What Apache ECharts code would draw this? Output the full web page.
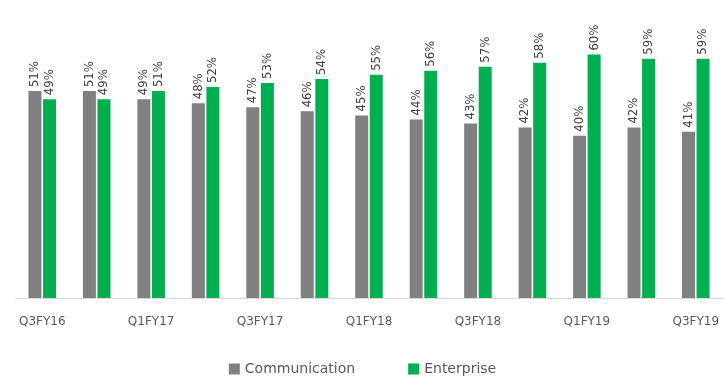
<!DOCTYPE html>
<html><head><meta charset="utf-8">
<script src="https://cdn.jsdelivr.net/npm/echarts@6/dist/echarts.min.js"></script>
<style>html,body{margin:0;padding:0;background:#fff}#c{width:725px;height:377px}</style>
</head><body><div id="c"></div>
<script>
const categories = ['Q3FY16','Q4FY16','Q1FY17','Q2FY17','Q3FY17','Q4FY17','Q1FY18','Q2FY18','Q3FY18','Q4FY18','Q1FY19','Q2FY19','Q3FY19'];
const communication = [51,51,49,48,47,46,45,44,43,42,40,42,41];
const enterprise = [49,49,51,52,53,54,55,56,57,58,60,59,59];
const chart = echarts.init(document.getElementById('c'));
const lbl = {
  show: true, position: 'top', rotate: 90, align: 'left', verticalAlign: 'middle',
  distance: 4, formatter: p => p.value + '%', color: '#404040', fontSize: 13,
  fontFamily: 'DejaVu Sans Condensed, sans-serif'
};
chart.setOption({
  animation: false,
  grid: {left: 15, right: 2, top: 14, bottom: 79},
  legend: {
    top: 357, left: 'center', itemWidth: 11, itemHeight: 11, itemGap: 53,
    icon: 'rect',
    textStyle: {color: '#595959', fontSize: 14, fontFamily: 'DejaVu Sans, sans-serif'},
    data: ['Communication', 'Enterprise']
  },
  xAxis: {
    type: 'category', data: categories,
    axisLine: {lineStyle: {color: '#d9d9d9'}},
    axisTick: {show: false},
    axisLabel: {interval: 1, color: '#595959', fontSize: 12, margin: 18,
      fontFamily: 'DejaVu Sans, sans-serif'}
  },
  yAxis: {type: 'value', min: 0, max: 70, show: false, splitLine: {show: false}},
  series: [
    {name: 'Communication', type: 'bar', data: communication, barWidth: 13, barGap: '12%',
      itemStyle: {color: '#808080'}, label: lbl},
    {name: 'Enterprise', type: 'bar', data: enterprise, barWidth: 13,
      itemStyle: {color: '#00b050'}, label: lbl}
  ]
});
</script></body></html>
